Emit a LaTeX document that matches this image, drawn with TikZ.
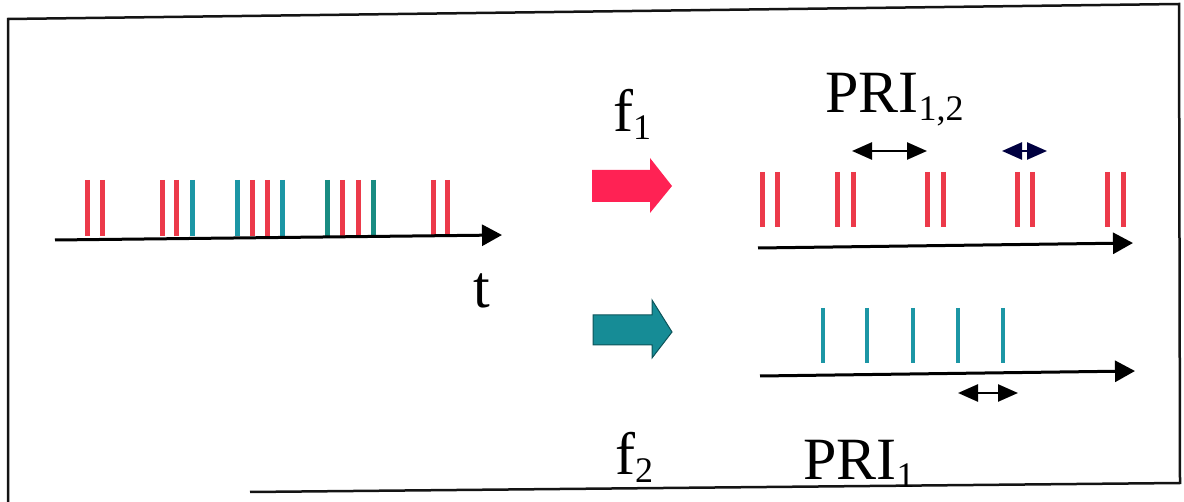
\documentclass[tikz,border=0pt]{standalone}
\usepackage{fontspec}
\setmainfont{Liberation Serif}
\usetikzlibrary{arrows.meta}
\definecolor{pred}{RGB}{236,58,74}
\definecolor{pteal}{RGB}{28,150,165}
\definecolor{pgreen}{RGB}{25,140,130}
\definecolor{ared}{RGB}{255,34,84}
\definecolor{ateal}{RGB}{22,140,150}
\definecolor{frame}{RGB}{20,20,20}
\newcommand\lowsub[1]{\raisebox{-8pt}{\fontsize{36}{36}\selectfont #1}}
\tikzset{
  lbl/.style={inner sep=0pt, anchor=base west, font=\fontsize{60}{72}\selectfont},
  axis/.style={line width=3pt, -{Triangle[length=20pt,width=21pt]}},
  span/.style={line width=2.5pt, {Triangle[length=20pt,width=17pt]}-{Triangle[length=20pt,width=17pt]}},
  redbar/.style={line width=5pt, pred},
  tealbar/.style={line width=5pt, pteal},
  greenbar/.style={line width=5pt, pgreen},
  framel/.style={line width=2.5pt, frame},
}
\begin{document}
\begin{tikzpicture}[x=1pt,y=-1pt]
\useasboundingbox (0,0) rectangle (1184,502);
% frame
\coordinate (fa) at (8,502);
\coordinate (fb) at (8,19);
\coordinate (fc) at (1179,4);
\coordinate (fd) at (1180,483);
\coordinate (fe) at (250,492);
\draw[framel] (fa) -- (fb) -- (fc) -- (fd) -- (fe);
% left timeline
\foreach \x in {87,102,162,176,252,267,342,358,433,447}
  \draw[redbar] (\x,180) -- (\x,236);
\foreach \x in {192,237,282}
  \draw[tealbar] (\x,180) -- (\x,236);
\foreach \x in {327,373}
  \draw[greenbar] (\x,180) -- (\x,236);
\coordinate (l0) at (55,240);
\coordinate (l1) at (502,235);
\draw[axis] (l0) -- (l1);
\node[lbl] (t) at (473,308) {t};
% block arrows
\fill[ared] (592,170) -- (650,170) -- (650,158) -- (672,186) -- (650,213) -- (650,202) -- (592,202) -- cycle;
\draw[ateal!60!black, fill=ateal, line width=1pt] (593,315) -- (652,315) -- (652,300) -- (672,332) -- (652,358) -- (652,345) -- (593,345) -- cycle;
\node[lbl] (f1) at (613,132) {f\lowsub{1}};
\node[lbl] (f2) at (615,475) {f\lowsub{2}};
% top right timeline
\foreach \x in {762,777,837,853,927,943,1017,1032,1107,1123}
  \draw[redbar] (\x,172) -- (\x,227);
\coordinate (r0) at (758,248);
\coordinate (r1) at (1133,243);
\draw[axis] (r0) -- (r1);
\node[lbl] (pri12) at (825,113) {PRI\lowsub{1,2}};
\coordinate (s1a) at (852,151);
\coordinate (s1b) at (927,151);
\draw[span] (s1a) -- (s1b);
\coordinate (s2a) at (1002,151);
\coordinate (s2b) at (1047,151);
\draw[span, draw=black!75!blue, fill=black!75!blue] (s2a) -- (s2b);
% bottom right timeline
\foreach \x in {823,867,913,958,1003}
  \draw[line width=4.5pt, pteal] (\x,308) -- (\x,363);
\coordinate (b0) at (760,376);
\coordinate (b1) at (1135,371);
\draw[axis] (b0) -- (b1);
\coordinate (s3a) at (958,393);
\coordinate (s3b) at (1018,393);
\draw[span] (s3a) -- (s3b);
\node[lbl] (pri1) at (803,480) {PRI\lowsub{1}};
\end{tikzpicture}
\end{document}
